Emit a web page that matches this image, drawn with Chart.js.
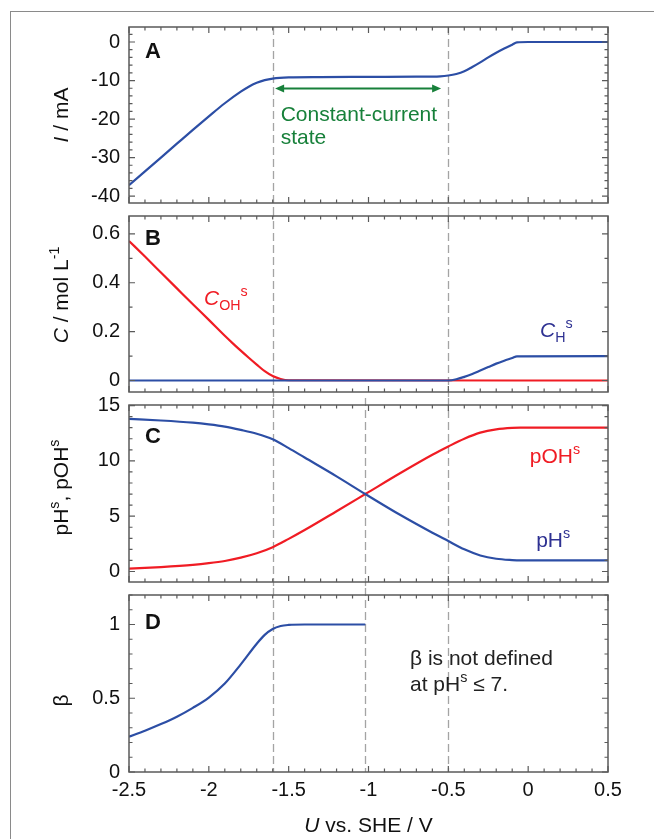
<!DOCTYPE html>
<html>
<head>
<meta charset="utf-8">
<script src="https://cdn.jsdelivr.net/npm/chart.js@4.4.1/dist/chart.umd.min.js"></script>
<style>
  html, body { margin: 0; padding: 0; background: #fff; }
  body { width: 654px; height: 839px; position: relative; overflow: hidden; }
  #frame { position: absolute; left: 10px; top: 11px; width: 700px; height: 900px;
           border-top: 1.5px solid #8a8a8a; border-left: 1.5px solid #8a8a8a; }
  canvas { position: absolute; left: 0; }
</style>
</head>
<body>
<div id="frame"></div>
<canvas id="panelA" width="654" height="209" style="top:0px"></canvas>
<canvas id="panelB" width="654" height="189" style="top:209px"></canvas>
<canvas id="panelC" width="654" height="195" style="top:393px"></canvas>
<canvas id="panelD" width="654" height="251" style="top:588px"></canvas>
<script>
// shared x axis (U vs. SHE / V)
const xTicks = [-2.5, -2, -1.5, -1, -0.5, 0, 0.5];
const xLabels = ['-2.5', '-2', '-1.5', '-1', '-0.5', '0', '0.5'];

// A: current I / mA
const uA = [-2.5, -2.4, -2.3, -2.2, -2.1, -2.0, -1.9, -1.8, -1.75, -1.7, -1.65, -1.6, -1.5, -1.3, -1.0, -0.7,
            -0.55, -0.5, -0.45, -0.4, -0.35, -0.3, -0.25, -0.2, -0.15, -0.1, -0.07, 0, 0.5];
const currentA = [-37.2, -33.6, -30.0, -26.4, -22.8, -19.3, -15.9, -12.9, -11.6, -10.6, -9.9, -9.5, -9.2, -9.1, -9.05, -9.0,
                  -8.9, -8.7, -8.3, -7.6, -6.5, -5.3, -4.0, -2.8, -1.7, -0.7, -0.1, 0, 0];
const yTicksA = [0, -10, -20, -30, -40];
const yLabelsA = ['0', '-10', '-20', '-30', '-40'];

// B: surface concentrations / mol L-1
const uOH = [-2.5, -2.4, -2.3, -2.2, -2.1, -2.0, -1.9, -1.85, -1.8, -1.75, -1.7, -1.65, -1.6, -1.55, -1.5, 0.5];
const cOH = [0.571, 0.507, 0.442, 0.377, 0.312, 0.248, 0.183, 0.152, 0.122, 0.093, 0.065, 0.038, 0.018, 0.006, 0.001, 0];
const uH = [-2.5, -0.5, -0.45, -0.4, -0.35, -0.3, -0.25, -0.2, -0.15, -0.1, -0.07, 0.5];
const cH = [0, 0, 0.005, 0.015, 0.027, 0.041, 0.055, 0.069, 0.081, 0.092, 0.099, 0.1];
const yTicksB = [0, 0.2, 0.4, 0.6];
const yLabelsB = ['0', '0.2', '0.4', '0.6'];

// C: pH and pOH at the surface
const uP = [-2.5, -2.3, -2.1, -2.0, -1.9, -1.8, -1.7, -1.6, -1.5, -1.4, -1.2, -1.02, -0.8, -0.6, -0.5,
            -0.4, -0.3, -0.2, -0.1, -0.05, 0.5];
const pH = [13.8, 13.65, 13.45, 13.3, 13.1, 12.8, 12.45, 11.95, 11.15, 10.3, 8.6, 7.0, 5.1, 3.5, 2.75,
            2.0, 1.45, 1.15, 1.03, 1.0, 1.0];
const pOH = [0.25, 0.4, 0.6, 0.75, 0.95, 1.25, 1.65, 2.2, 2.95, 3.75, 5.45, 7.0, 8.9, 10.55, 11.3,
             12.0, 12.55, 12.85, 12.98, 13.0, 13.0];
const yTicksC = [0, 5, 10, 15];
const yLabelsC = ['0', '5', '10', '15'];

// D: beta
const uBeta = [-2.5, -2.4, -2.3, -2.2, -2.1, -2.0, -1.9, -1.8, -1.7, -1.65, -1.6, -1.55, -1.5, -1.4, -1.02];
const beta = [0.24, 0.28, 0.325, 0.375, 0.435, 0.505, 0.6, 0.73, 0.87, 0.93, 0.97, 0.99, 0.997, 1.0, 1.0];
const yTicksD = [0, 0.5, 1];
const yLabelsD = ['0', '0.5', '1'];

// dashed guide lines
const guideU = [-1.6, -0.5];
const crossU = -1.02;

const FONT = '"Liberation Sans", Arial, sans-serif';
const BLUE = '#2c4ea5';
const RED = '#f01c24';
const INK = '#111';
const AXIS = '#5a5a5a';

function pts(xs, ys) {
  return xs.map((x, i) => ({ x: x, y: ys[i] }));
}

// parts: [text, flags]; flags: i italic, b bold, ^ superscript, _ subscript
function richText(ctx, parts, x, y, size, color, align, rotate) {
  const items = parts.map(([t, f = '']) => {
    const small = f.includes('^') || f.includes('_');
    const s = small ? size * 0.68 : size;
    const font = (f.includes('i') ? 'italic ' : '') + (f.includes('b') ? 'bold ' : '') + s + 'px ' + FONT;
    ctx.font = font;
    const dy = f.includes('^') ? -size * 0.42 : (f.includes('_') ? size * 0.24 : 0);
    return { t: t, font: font, dy: dy, w: ctx.measureText(t).width };
  });
  const total = items.reduce((s, it) => s + it.w, 0);
  ctx.save();
  ctx.translate(x, y);
  if (rotate) ctx.rotate(-Math.PI / 2);
  let cx = align === 'center' ? -total / 2 : 0;
  ctx.fillStyle = color;
  ctx.textAlign = 'left';
  ctx.textBaseline = 'alphabetic';
  items.forEach(it => {
    ctx.font = it.font;
    ctx.fillText(it.t, cx, it.dy);
    cx += it.w;
  });
  ctx.restore();
}

function stepValues(min, max, step) {
  const out = [];
  const first = Math.ceil(min / step - 1e-9);
  const last = Math.floor(max / step + 1e-9);
  for (let k = first; k <= last; k++) out.push(k * step);
  return out;
}

function panelPlugin(cfg) {
  return {
    id: 'panel' + cfg.id,
    beforeDatasetsDraw(chart) {
      const { ctx, chartArea: a } = chart;
      const x = chart.scales.x;
      ctx.save();
      ctx.strokeStyle = '#a4a4a4';
      ctx.lineWidth = 1.3;
      ctx.setLineDash([8, 4]);
      cfg.guides.forEach(g => {
        const px = Math.round(x.getPixelForValue(g.u)) + 0.5;
        const y0 = g.fromTop ? a.top : (g.startAt || 0);
        const y1 = g.toBottom ? a.bottom : chart.height;
        ctx.beginPath();
        ctx.moveTo(px, y0);
        ctx.lineTo(px, y1);
        ctx.stroke();
      });
      ctx.restore();
    },
    afterDatasetsDraw(chart) {
      const { ctx, chartArea: a } = chart;
      const x = chart.scales.x, y = chart.scales.y;
      ctx.save();
      ctx.strokeStyle = AXIS;
      ctx.lineWidth = 1.5;
      ctx.strokeRect(a.left, a.top, a.right - a.left, a.bottom - a.top);
      ctx.lineWidth = 1.2;
      ctx.beginPath();
      stepValues(-2.5, 0.5, 0.1).forEach(v => {
        const major = Math.abs(v / 0.5 - Math.round(v / 0.5)) < 1e-6;
        const len = major ? 6 : 3.5;
        const px = x.getPixelForValue(v);
        ctx.moveTo(px, a.bottom); ctx.lineTo(px, a.bottom - len);
        ctx.moveTo(px, a.top); ctx.lineTo(px, a.top + len);
      });
      stepValues(cfg.yMin, cfg.yMax, cfg.yMinor).forEach(v => {
        const major = cfg.yTicks.some(t => Math.abs(t - v) < 1e-6);
        const len = major ? 6 : 3.5;
        const py = y.getPixelForValue(v);
        ctx.moveTo(a.left, py); ctx.lineTo(a.left + len, py);
        ctx.moveTo(a.right, py); ctx.lineTo(a.right - len, py);
      });
      ctx.stroke();
      ctx.restore();
    },
    afterDraw(chart) {
      const { ctx, chartArea: a } = chart;
      const x = chart.scales.x, y = chart.scales.y;
      // panel letter
      richText(ctx, [[cfg.letter, 'b']], a.left + 16, a.top + cfg.letterDy, 22, INK);
      // y-axis title
      richText(ctx, cfg.title, 68, (a.top + a.bottom) / 2 + cfg.titleDy, 21, INK, 'center', true);
      // notes in data coordinates
      cfg.notes.forEach(n => {
        richText(ctx, n.parts, x.getPixelForValue(n.u), y.getPixelForValue(n.v), 21, n.color);
      });
      if (cfg.arrow) {
        const ar = cfg.arrow;
        const x1 = x.getPixelForValue(ar.u1), x2 = x.getPixelForValue(ar.u2), py = y.getPixelForValue(ar.v);
        ctx.save();
        ctx.strokeStyle = ar.color; ctx.fillStyle = ar.color; ctx.lineWidth = 2;
        ctx.beginPath(); ctx.moveTo(x1 + 6, py); ctx.lineTo(x2 - 6, py); ctx.stroke();
        ctx.beginPath(); ctx.moveTo(x1, py); ctx.lineTo(x1 + 9, py - 4); ctx.lineTo(x1 + 9, py + 4); ctx.closePath(); ctx.fill();
        ctx.beginPath(); ctx.moveTo(x2, py); ctx.lineTo(x2 - 9, py - 4); ctx.lineTo(x2 - 9, py + 4); ctx.closePath(); ctx.fill();
        ctx.restore();
      }
      if (cfg.showX) {
        richText(ctx, [['U', 'i'], [' vs. SHE / V']], (a.left + a.right) / 2, 244, 21, INK, 'center');
      }
    }
  };
}

function makePanel(cfg) {
  const tickFont = { family: FONT, size: 20 };
  return new Chart(document.getElementById(cfg.id), {
    type: 'line',
    data: {
      datasets: cfg.series.map(s => ({
        data: pts(s.x, s.y),
        borderColor: s.color,
        borderWidth: 2.2,
        pointRadius: 0,
        fill: false,
        cubicInterpolationMode: 'monotone'
      }))
    },
    options: {
      responsive: false,
      animation: false,
      events: [],
      layout: { padding: { left: 0, right: 46, top: cfg.padTop, bottom: cfg.padBottom } },
      plugins: { legend: { display: false }, tooltip: { enabled: false } },
      scales: {
        x: {
          type: 'linear',
          min: -2.5,
          max: 0.5,
          display: cfg.showX,
          afterFit: s => {
            if (cfg.showX) s.height = 67;
            s.paddingLeft = 0; s.paddingRight = 0;
          },
          afterBuildTicks: s => { s.ticks = xTicks.map(v => ({ value: v })); },
          ticks: {
            callback: (v, i) => xLabels[i],
            font: tickFont, color: INK, padding: 6,
            maxRotation: 0, autoSkip: false
          },
          grid: { display: false, drawTicks: false },
          border: { display: false }
        },
        y: {
          type: 'linear',
          min: cfg.yMin,
          max: cfg.yMax,
          afterFit: s => {
            s.width = 129;
            s.paddingTop = 0; s.paddingBottom = 0;
          },
          afterBuildTicks: s => { s.ticks = cfg.yTicks.map(v => ({ value: v })); },
          ticks: {
            callback: (v, i) => cfg.yLabels[i],
            font: tickFont, color: INK, padding: 9, autoSkip: false
          },
          grid: { display: false, drawTicks: false },
          border: { display: false }
        }
      }
    },
    plugins: [panelPlugin(cfg)]
  });
}

makePanel({
  id: 'panelA', padTop: 27, padBottom: 6, showX: false,
  yMin: -41.8, yMax: 3.9, yTicks: yTicksA, yLabels: yLabelsA, yMinor: 2,
  series: [{ x: uA, y: currentA, color: BLUE }],
  guides: guideU.map(u => ({ u: u, fromTop: true })),
  letter: 'A', letterDy: 31,
  title: [['I', 'i'], [' / mA']], titleDy: 0,
  notes: [
    { u: -1.55, v: -20.5, parts: [['Constant-current']], color: '#17803a' },
    { u: -1.55, v: -26.6, parts: [['state']], color: '#17803a' }
  ],
  arrow: { u1: -1.585, u2: -0.545, v: -12.1, color: '#17803a' }
});

makePanel({
  id: 'panelB', padTop: 7, padBottom: 6, showX: false,
  yMin: -0.047, yMax: 0.673, yTicks: yTicksB, yLabels: yLabelsB, yMinor: 0.1,
  series: [{ x: uH, y: cH, color: BLUE }, { x: uOH, y: cOH, color: RED }],
  guides: guideU.map(u => ({ u: u })),
  letter: 'B', letterDy: 29,
  title: [['C', 'i'], [' / mol L'], ['-1', '^']], titleDy: -9,
  notes: [
    { u: -2.03, v: 0.31, parts: [['C', 'i'], ['OH', '_'], ['s', '^']], color: RED },
    { u: 0.074, v: 0.18, parts: [['C', 'i'], ['H', '_'], ['s', '^']], color: '#2e3192' }
  ]
});

makePanel({
  id: 'panelC', padTop: 12, padBottom: 6, showX: false,
  yMin: -0.95, yMax: 15.05, yTicks: yTicksC, yLabels: yLabelsC, yMinor: 1,
  series: [{ x: uP, y: pH, color: BLUE }, { x: uP, y: pOH, color: RED }],
  guides: [{ u: guideU[0], startAt: 5 }, { u: guideU[1], startAt: 5 }, { u: crossU, startAt: 5 }],
  letter: 'C', letterDy: 38,
  title: [['pH'], ['s', '^'], [', pOH'], ['s', '^']], titleDy: -6,
  notes: [
    { u: 0.01, v: 9.8, parts: [['pOH'], ['s', '^']], color: RED },
    { u: 0.05, v: 2.25, parts: [['pH'], ['s', '^']], color: '#2e3192' }
  ]
});

makePanel({
  id: 'panelD', padTop: 7, padBottom: 0, showX: true,
  yMin: 0, yMax: 1.2, yTicks: yTicksD, yLabels: yLabelsD, yMinor: 0.1,
  series: [{ x: uBeta, y: beta, color: BLUE }],
  guides: guideU.map(u => ({ u: u, toBottom: true })).concat([{ u: crossU, toBottom: true }]),
  letter: 'D', letterDy: 34,
  title: [['β']], titleDy: 17,
  notes: [
    { u: -0.74, v: 0.725, parts: [['β is not defined']], color: '#222' },
    { u: -0.74, v: 0.55, parts: [['at pH'], ['s', '^'], [' ≤ 7.']], color: '#222' }
  ]
});
</script>
</body>
</html>
